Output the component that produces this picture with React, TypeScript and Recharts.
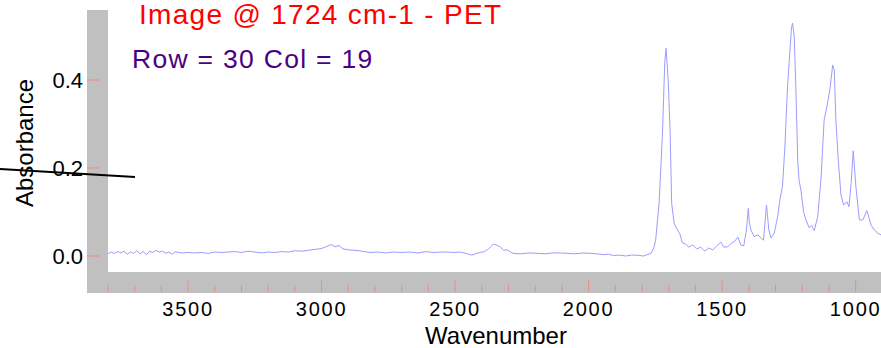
import { LineChart, Line, XAxis, YAxis } from "recharts";

// spectrum, high wavenumber first
const wavenumbers = [
  3800, 3788, 3776, 3764, 3752, 3740, 3728, 3716, 3704, 3692, 3680, 3668, 3656, 3644, 3632, 3620,
  3608, 3596, 3584, 3572, 3560, 3548, 3536, 3520, 3500, 3475, 3450, 3425, 3400, 3375, 3350, 3325,
  3300, 3275, 3250, 3225, 3200, 3175, 3150, 3125, 3100, 3075, 3050, 3025, 3000, 2980, 2962, 2950,
  2935, 2920, 2900, 2880, 2860, 2840, 2819, 2790, 2760, 2730, 2700, 2670, 2640, 2610, 2580, 2550,
  2530, 2505, 2481, 2460, 2437, 2420, 2406, 2390, 2375, 2357, 2345, 2330, 2318, 2306, 2283, 2256,
  2219, 2190, 2163, 2135, 2106, 2078, 2050, 2020, 1994, 1970, 1945, 1925, 1907, 1885, 1861, 1840,
  1824, 1808, 1794, 1767, 1756, 1749, 1736, 1723, 1715, 1710, 1702, 1695, 1689, 1680, 1667, 1658,
  1649, 1636, 1625, 1610, 1595, 1580, 1565, 1550, 1535, 1520, 1505, 1494, 1479, 1464, 1452, 1441,
  1430, 1419, 1409, 1402, 1398, 1392, 1380, 1366, 1355, 1345, 1334, 1325, 1317, 1305, 1292, 1284,
  1274, 1265, 1255, 1246, 1240, 1236, 1230, 1224, 1217, 1212, 1205, 1195, 1186, 1174, 1165, 1155,
  1142, 1130, 1118, 1105, 1095, 1086, 1080, 1074, 1065, 1055, 1045, 1032, 1025, 1017, 1009, 999,
  986, 973, 958, 942, 930, 917, 905,
];

const absorbance = [
  0.005, 0.009, 0.006, 0.010, 0.007, 0.011, 0.004, 0.009, 0.006, 0.012, 0.005, 0.010, 0.003, 0.011, 0.008, 0.013,
  0.009, 0.011, 0.006, 0.009, 0.004, 0.010, 0.008, 0.007, 0.008, 0.007, 0.008, 0.006, 0.009, 0.008, 0.009, 0.010,
  0.008, 0.011, 0.009, 0.007, 0.009, 0.008, 0.010, 0.009, 0.012, 0.011, 0.013, 0.015, 0.017, 0.022, 0.026, 0.021,
  0.024, 0.016, 0.014, 0.013, 0.012, 0.010, 0.008, 0.009, 0.007, 0.009, 0.008, 0.009, 0.007, 0.010, 0.008, 0.009,
  0.009, 0.008, 0.009, 0.006, 0.002, 0.006, 0.008, 0.010, 0.016, 0.027, 0.025, 0.020, 0.013, 0.014, 0.006, 0.005,
  0.007, 0.006, 0.005, 0.007, 0.007, 0.006, 0.005, 0.007, 0.006, 0.005, 0.003, 0.004, 0.001, 0.002, 0.000, 0.002,
  0.002, 0.001, 0.000, 0.006, 0.018, 0.036, 0.120, 0.286, 0.439, 0.472, 0.400, 0.286, 0.120, 0.075, 0.059, 0.050,
  0.030, 0.027, 0.020, 0.025, 0.016, 0.020, 0.011, 0.018, 0.014, 0.023, 0.032, 0.020, 0.021, 0.030, 0.034, 0.043,
  0.025, 0.023, 0.059, 0.108, 0.077, 0.059, 0.044, 0.048, 0.041, 0.036, 0.116, 0.059, 0.041, 0.052, 0.089, 0.127,
  0.158, 0.248, 0.385, 0.468, 0.520, 0.529, 0.498, 0.385, 0.218, 0.173, 0.150, 0.101, 0.082, 0.064, 0.070, 0.058,
  0.089, 0.173, 0.309, 0.348, 0.385, 0.434, 0.423, 0.309, 0.218, 0.139, 0.116, 0.123, 0.112, 0.165, 0.239, 0.158,
  0.082, 0.082, 0.103, 0.070, 0.059, 0.052, 0.048,
];

const xTicks = [
  3800, 3700, 3600, 3500, 3400, 3300, 3200, 3100, 3000, 2900, 2800, 2700, 2600, 2500, 2400,
  2300, 2200, 2100, 2000, 1900, 1800, 1700, 1600, 1500, 1400, 1300, 1200, 1100, 1000,
];
const xLabels = [3500, 3000, 2500, 2000, 1500, 1000];
const yTicks = [0, 0.2, 0.4];

const data = wavenumbers.map((w, i) => ({ w, a: absorbance[i] }));

const font = "'Liberation Sans', Arial, sans-serif";
const pink = "#f08a8a";
const gray = "#c0c0c0";

function YTick(props: any) {
  const { x, y, payload } = props;
  return (
    <g>
      <line x1={x - 21} x2={x - 8} y1={y} y2={y} stroke={pink} strokeWidth={1} />
      <text x={x - 25} y={y + 8} textAnchor="end" fontSize={22} fontFamily={font} fill="#000">
        {Number(payload.value).toFixed(1)}
      </text>
    </g>
  );
}

function XTick(props: any) {
  const { x, y, payload } = props;
  const major = xLabels.includes(payload.value);
  return (
    <g>
      <line x1={x} x2={x} y1={y + (major ? 8 : 13)} y2={y + 20} stroke={pink} strokeWidth={1} />
      {major && (
        <text x={x} y={y + 44} textAnchor="middle" fontSize={20} letterSpacing={1.8} fontFamily={font} fill="#000">
          {payload.value}
        </text>
      )}
    </g>
  );
}

export default function App() {
  return (
    <div style={{ position: "absolute", left: 0, top: 0, width: 881, height: 348, background: "#fff", overflow: "hidden" }}>
      <div style={{ position: "absolute", left: 87, top: 10, width: 794, height: 283, background: gray }} />
      <div style={{ position: "absolute", left: 108, top: 10, width: 773, height: 262, background: "#fff" }} />
      <LineChart width={881} height={348} data={data} margin={{ top: 10, right: 0, bottom: 0, left: 0 }}>
        <XAxis
          dataKey="w"
          type="number"
          domain={[905, 3800]}
          reversed
          allowDataOverflow
          ticks={xTicks}
          interval={0}
          height={76}
          axisLine={false}
          tickLine={false}
          tickSize={0}
          tickMargin={0}
          tick={<XTick />}
        />
        <YAxis
          type="number"
          domain={[-0.03636, 0.5591]}
          allowDataOverflow
          ticks={yTicks}
          interval={0}
          width={108}
          axisLine={false}
          tickLine={false}
          tickSize={0}
          tickMargin={0}
          tick={<YTick />}
        />
        <Line
          type="linear"
          dataKey="a"
          stroke="#9c9cff"
          strokeWidth={1}
          dot={false}
          isAnimationActive={false}
        />
      </LineChart>
      <svg width={881} height={348} style={{ position: "absolute", left: 0, top: 0, pointerEvents: "none" }}>
        <text x={139} y={24} fontSize={28} letterSpacing={1.3} fontFamily={font} fill="#ff0000">
          Image @ 1724 cm-1 - PET
        </text>
        <text x={132} y={68} fontSize={26.5} letterSpacing={1.3} fontFamily={font} fill="#4b0082">
          Row = 30 Col = 19
        </text>
        <text x={496} y={344} textAnchor="middle" fontSize={24} fontFamily={font} fill="#000">
          Wavenumber
        </text>
        <text
          x={33}
          y={143}
          textAnchor="middle"
          fontSize={24}
          fontFamily={font}
          fill="#000"
          transform="rotate(-90 33 143)"
        >
          Absorbance
        </text>
        <line x1={0} y1={169} x2={135} y2={177} stroke="#000" strokeWidth={2} />
      </svg>
    </div>
  );
}
